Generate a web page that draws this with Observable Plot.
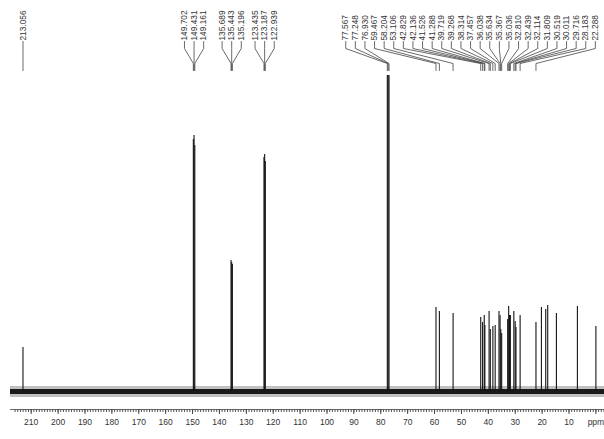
<!DOCTYPE html>
<html><head><meta charset="utf-8">
<script src="https://cdn.jsdelivr.net/npm/d3@7"></script>
<script src="https://cdn.jsdelivr.net/npm/@observablehq/plot@0.6"></script>
<style>body{margin:0;background:#fff} #chart svg{display:block}</style>
</head><body><div id="chart"></div>
<script>
// Labelled peaks (ppm), grouped as in the label fans
const labelGroups = [
  [213.056],
  [149.702, 149.431, 149.161],
  [135.689, 135.443, 135.196],
  [123.435, 123.187, 122.939],
  [77.567, 77.248, 76.930, 59.467, 58.204, 53.106, 42.829, 42.136, 41.526, 41.288,
   39.719, 39.268, 38.314, 37.457, 36.038, 35.634, 35.367, 35.036, 32.810, 32.439,
   32.114, 31.809, 30.519, 30.011, 29.716, 28.183, 22.288]
];
// Peak intensities (arbitrary units) for the labelled peaks
const labelledHeights = [
  [44],
  [252, 256, 246],
  [131, 129, 127],
  [234, 237, 230],
  [316, 316, 316, 84, 80, 78, 74, 69, 76, 66,
   80, 62, 65, 66, 80, 76, 62, 58, 72, 85,
   76, 76, 80, 70, 64, 76, 69]
];
// Unlabelled peaks
const extraPpm = [20.26, 18.66, 17.92, 14.68, 6.88, 0.0];
const extraHeights = [84, 82, 86, 78, 85, 65];
// Axis ticks
const majorTicks = [210, 200, 190, 180, 170, 160, 150, 140, 130, 120, 110, 100, 90, 80, 70, 60, 50, 40, 30, 20, 10, 0];
const axisUnit = "ppm";

// ---- build tables ----
const W = 604, H = 439, mL = 10, mR = 0, mB = 30;
const xDomain = [217.7, -3.2];
const pxPerPpm = (W - mL - mR) / (xDomain[0] - xDomain[1]);
const spacing = 9.6 / pxPerPpm;   // label spacing in ppm
const minLabel = 0.2;

const peaks = [];
const labels = [];
const fan = [];
labelGroups.forEach((g, gi) => {
  const n = g.length;
  const center = d3.mean(g);
  let pos = g.map((_, k) => center + ((n - 1) / 2 - k) * spacing);
  const lo = d3.min(pos);
  if (lo < minLabel) pos = pos.map(p => p + (minLabel - lo));
  g.forEach((p, k) => {
    peaks.push({ppm: p, h: labelledHeights[gi][k]});
    labels.push({ppm: p, lx: pos[k], text: p.toFixed(3)});
    const id = gi + "-" + k;
    if (n === 1) {
      fan.push({id, x: p, y: 350}, {id, x: p, y: 321});
    } else {
      fan.push({id, x: pos[k], y: 350}, {id, x: pos[k], y: 343},
               {id, x: p, y: 328}, {id, x: p, y: 321});
    }
  });
});
extraPpm.forEach((p, i) => peaks.push({ppm: p, h: extraHeights[i]}));
const minorTicks = d3.range(-3, 217);

const chart = Plot.plot({
  width: W, height: H,
  marginLeft: mL, marginRight: mR, marginTop: 0, marginBottom: mB,
  style: {background: "#fff", color: "#333", fontFamily: "Liberation Sans, Arial, sans-serif"},
  x: {domain: xDomain, axis: null},
  y: {domain: [-18, 391], axis: null},
  marks: [
    Plot.ruleY([0], {stroke: "#333", strokeWidth: 11, strokeOpacity: 0.3}),
    Plot.ruleY([0], {stroke: "#1a1a1a", strokeWidth: 5}),
    Plot.ruleX(peaks, {x: "ppm", y1: 0, y2: "h", stroke: "#151515", strokeWidth: 1.1}),
    Plot.line(fan, {x: "x", y: "y", z: "id", stroke: "#444", strokeWidth: 0.8, curve: "linear"}),
    Plot.text(labels, {x: "lx", y: 351, text: "text", rotate: -90, textAnchor: "start",
      fontSize: 8.3, fill: "#333"}),
    Plot.frame({anchor: "bottom", stroke: "#444", strokeWidth: 0.8}),
    Plot.axisX({ticks: minorTicks, tickSize: 3, tickFormat: () => "", stroke: "#555"}),
    Plot.axisX({ticks: majorTicks, tickSize: 5, tickPadding: 4, fontSize: 8.5,
      tickFormat: d => d === 0 ? axisUnit : String(d), stroke: "#444", fill: "#333"})
  ]
});
document.getElementById("chart").appendChild(chart);
</script>
</body></html>
